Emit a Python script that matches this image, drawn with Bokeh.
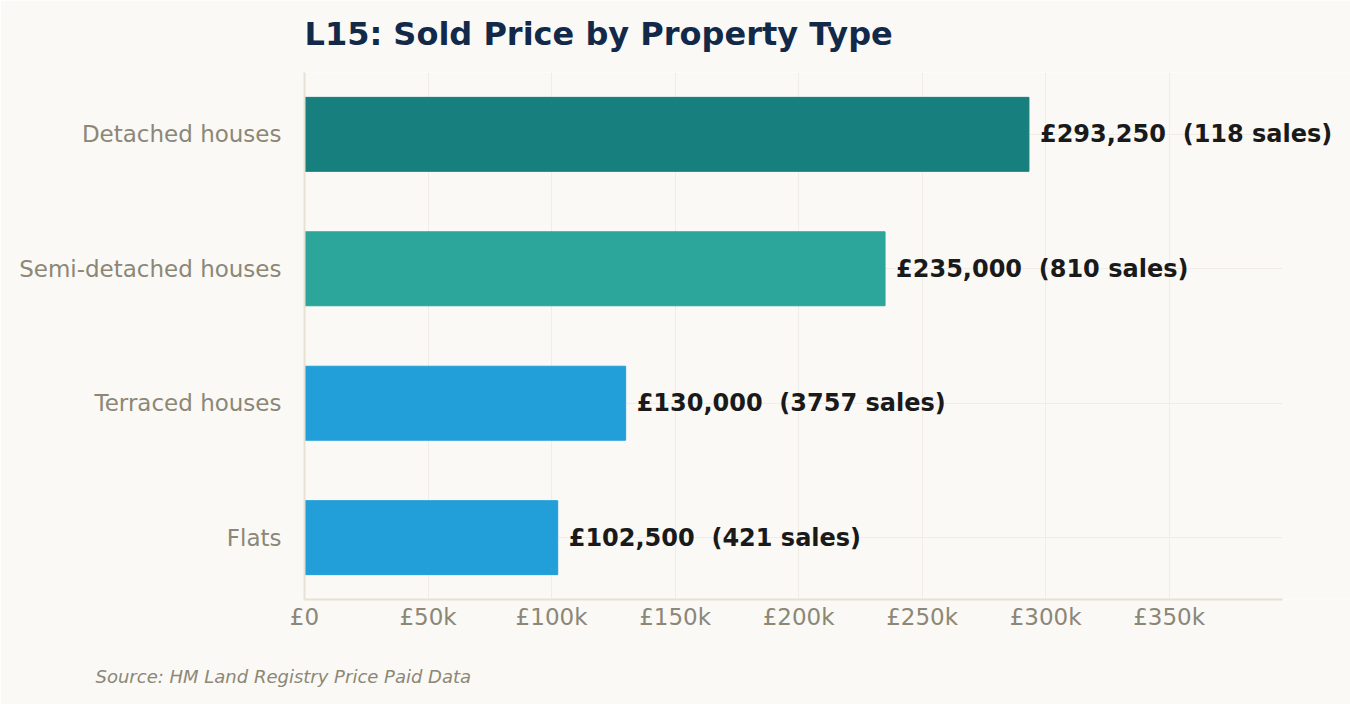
from bokeh.plotting import figure
from bokeh.models import (ColumnDataSource, Range1d, FixedTicker, Title, LabelSet,
                          LinearAxis, Grid)
from bokeh.core.properties import value
from bokeh.embed import file_html
from bokeh.resources import INLINE

categories = ["Detached houses", "Semi-detached houses", "Terraced houses", "Flats"]
prices = [293250, 235000, 130000, 102500]
sales = [118, 810, 3757, 421]
colors = ["#17807e", "#2ca59b", "#229fd9", "#229fd9"]
x_ticks = [0, 50000, 100000, 150000, 200000, 250000, 300000, 350000]
x_tick_labels = ["£0", "£50k", "£100k", "£150k", "£200k", "£250k", "£300k", "£350k"]

ypos = [len(categories) - 1 - i for i in range(len(categories))]
labels = [f"£{p:,} \u00a0({s} sales)" for p, s in zip(prices, sales)]

src = ColumnDataSource(dict(y=ypos, price=prices, color=colors, label=labels))

BG = "#faf9f5"
FONT = "DejaVu Sans"
W, H = 1350, 704
FRAME_L, AXIS_R = 304, 1282        # axis spans 304..1282, frame extends to the canvas edge
x_axis_max = max(prices) * 1.35
x_view_max = x_axis_max * (W - FRAME_L) / (AXIS_R - FRAME_L)

p = figure(width=W, height=H, output_backend="svg", toolbar_location=None,
           x_range=Range1d(0, x_view_max), y_range=Range1d(-0.46, len(categories) - 0.54),
           min_border_left=FRAME_L, min_border_right=0, min_border_top=72, min_border_bottom=105,
           background_fill_color=BG, border_fill_color=BG, outline_line_color=None)

p.hbar(y="y", right="price", left=0, height=0.55, color="color", source=src)

p.add_layout(LabelSet(x="price", y="y", text="label", source=src, x_offset=11,
                      text_baseline="middle", text_font=value(FONT), text_font_style="bold",
                      text_font_size="24px", text_color="#1a1a1a"))

p.xaxis.ticker = FixedTicker(ticks=x_ticks)
p.xaxis.major_label_overrides = {t: l for t, l in zip(x_ticks, x_tick_labels)}
p.xaxis.bounds = (0, x_axis_max)
p.yaxis.ticker = FixedTicker(ticks=ypos)
p.yaxis.major_label_overrides = {y: c for y, c in zip(ypos, categories)}

for ax in (p.xaxis, p.yaxis):
    ax.axis_line_color = "#e6e1d3"
    ax.axis_line_width = 2
    ax.major_tick_line_color = None
    ax.minor_tick_line_color = None
    ax.major_label_text_font = FONT
    ax.major_label_text_font_size = "23px"
    ax.major_label_text_color = "#8c8776"
p.xaxis.major_label_standoff = -2
p.yaxis.major_label_standoff = 17

p.xgrid.grid_line_color = "#efede6"
p.ygrid.grid_line_color = "#efede6"
p.xgrid.ticker = FixedTicker(ticks=x_ticks)
p.ygrid.ticker = FixedTicker(ticks=ypos)
if "cross_bounds" in Grid.properties():
    p.ygrid.cross_bounds = (0, x_axis_max)
    p.xgrid.bounds = (0, x_axis_max)


def spacer(size):
    # label-less axis, drawn in the background colour, used only to reserve vertical space
    return LinearAxis(ticker=FixedTicker(ticks=[0]), major_label_overrides={0: ""},
                      axis_line_color=None, major_tick_line_color=BG, minor_tick_line_color=None,
                      major_tick_in=0, major_tick_out=size, minor_tick_out=0,
                      major_label_standoff=0, major_label_text_font_size="1px")


p.add_layout(spacer(15), "above")

p.title.text = "L15: Sold Price by Property Type"
p.title.text_font = FONT
p.title.text_font_size = "32px"
p.title.text_font_style = "bold"
p.title.text_color = "#12294a"
p.title.align = "left"
p.title.standoff = 10

p.add_layout(spacer(16), "below")
p.add_layout(Title(text="Source: HM Land Registry Price Paid Data", align="left", offset=-209,
                   text_font=FONT, text_font_size="18px", text_font_style="italic",
                   text_color="#8c8776", standoff=31), "below")

open("out.html", "w").write(file_html(p, INLINE))
